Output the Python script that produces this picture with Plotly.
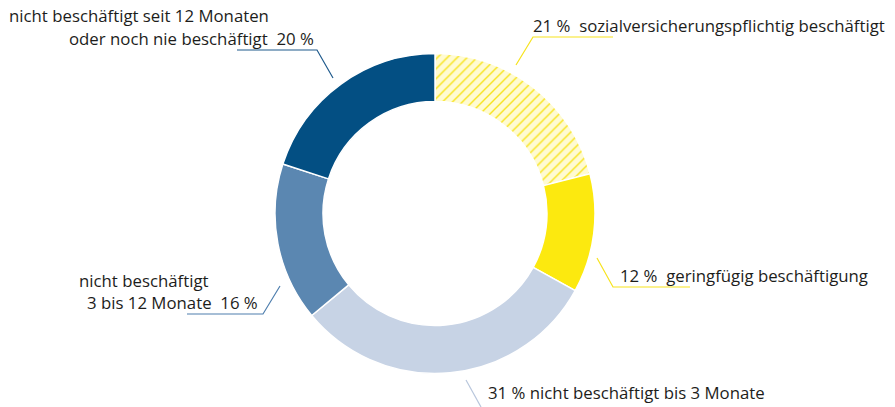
import plotly.graph_objects as go

labels = ["sozialversicherungspflichtig beschäftigt", "geringfügig beschäftigung",
          "nicht beschäftigt bis 3 Monate", "nicht beschäftigt 3 bis 12 Monate",
          "nicht beschäftigt seit 12 Monaten oder noch nie beschäftigt"]
values = [21, 12, 31, 16, 20]
colors = ["#fffbd2", "#fce90f", "#c7d3e5", "#5b87b1", "#034f83"]

W, H = 895, 407
cx, cy, R = 435, 213.5, 160

def px(x):
    return x / W

def py(y):
    return 1 - y / H

fig = go.Figure()
fig.add_trace(go.Pie(
    labels=labels, values=values, sort=False, direction="clockwise", rotation=0,
    hole=0.70, textinfo="none", hoverinfo="none", showlegend=False,
    marker=dict(colors=colors, line=dict(color="white", width=1.5),
                pattern=dict(shape=["/", "", "", "", ""], fgcolor="#f7e31c",
                             bgcolor="#fffbd2", size=7, solidity=0.2)),
    domain=dict(x=[px(cx - R), px(cx + R)], y=[py(cy + R), py(cy - R)]),
))

font = dict(family="Open Sans", size=16.8, color="#1d1d1b")
NB = "\u00a0"

texts = [
    (f"nicht beschäftigt seit 12 Monaten", 7, 16),
    (f"oder noch nie beschäftigt{NB}{NB}{values[4]}{NB}%", 67, 38),
    (f"{values[0]}{NB}%{NB}{NB}sozialversicherungspflichtig beschäftigt", 531, 25),
    (f"{values[1]}{NB}%{NB}{NB}geringfügig beschäftigung", 618, 275),
    (f"{values[2]}{NB}%{NB}nicht beschäftigt bis 3 Monate", 486, 392),
    (f"nicht beschäftigt", 77, 280),
    (f"3 bis 12 Monate{NB}{NB}{values[3]}{NB}%", 85, 302),
]
for t, x, y in texts:
    fig.add_annotation(text=t, x=px(x), y=py(y), xref="paper", yref="paper",
                       xanchor="left", yanchor="middle", showarrow=False, font=font)

leaders = [
    ([(237, 50), (317, 50), (333, 78)], "#1f5a8c"),
    ([(613, 37), (533, 37), (516, 65)], "#f7e31c"),
    ([(690, 287), (613, 287), (597, 258)], "#f7e31c"),
    ([(466, 380), (481, 407)], "#b8c6dc"),
    ([(187, 314), (263, 314), (280, 286)], "#4f7fae"),
]
for pts, c in leaders:
    path = "M " + " L ".join(f"{px(x)},{py(y)}" for x, y in pts)
    fig.add_shape(type="path", path=path, xref="paper", yref="paper",
                  line=dict(color=c, width=1.2))

fig.update_layout(width=W, height=H, margin=dict(l=0, r=0, t=0, b=0),
                  paper_bgcolor="white", plot_bgcolor="white")
fig.write_html("out.html", config={"displayModeBar": False},
               post_script="document.body.style.margin='0';document.body.style.overflow='hidden';")
